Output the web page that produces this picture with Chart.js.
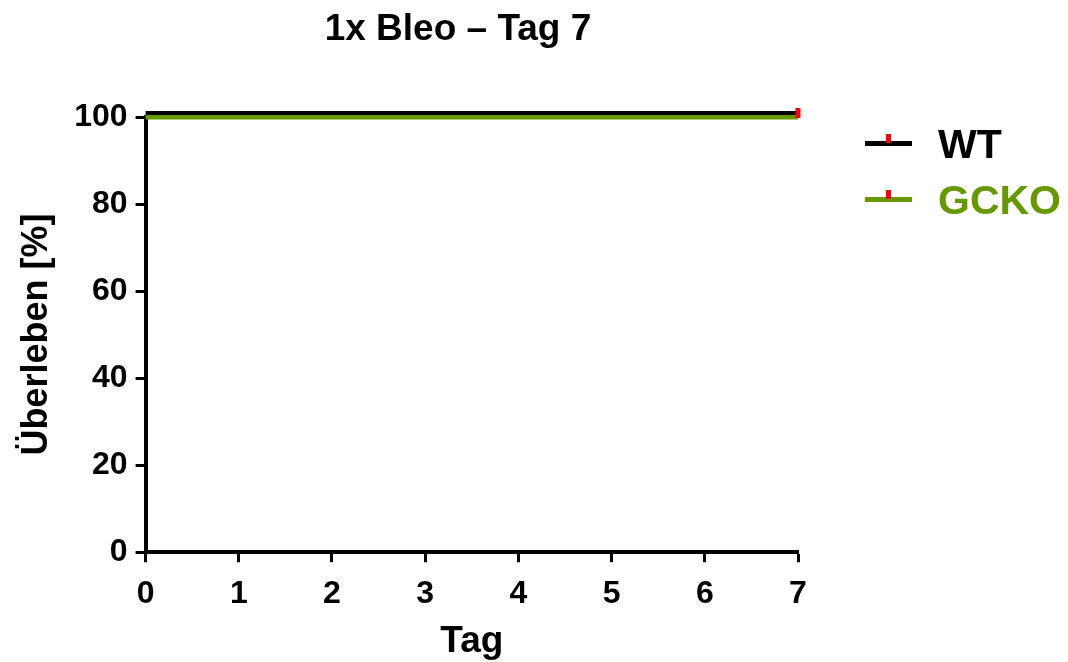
<!DOCTYPE html>
<html>
<head>
<meta charset="utf-8">
<script src="https://cdn.jsdelivr.net/npm/chart.js@4/dist/chart.umd.min.js"></script>
<style>
  html, body { margin: 0; padding: 0; background: #ffffff; }
  #wrap { width: 1068px; height: 662px; }
</style>
</head>
<body>
<div id="wrap"><canvas id="grafica" width="1068" height="662"></canvas></div>
<script>
// Daten (Überleben in %)
const tage = [0, 7];
const wtUeberleben = [100, 100];
const gckoUeberleben = [100, 100];
const serien = ['WT', 'GCKO'];
const xTicks = [0, 1, 2, 3, 4, 5, 6, 7];
const yTicks = [0, 20, 40, 60, 80, 100];
const titel = '1x Bleo \u2013 Tag 7';

const farben = { WT: '#000000', GCKO: '#669900', zensiert: '#ff0000' };
const schrift = 'Liberation Sans, Arial, sans-serif';

function punkte(werte) {
    return tage.map((t, i) => ({ x: t, y: werte[i] }));
}

// letzter Punkt = zensiert (roter Strich)
function radien(werte) {
    return werte.map((v, i) => i === werte.length - 1 ? 5 : 0);
}

// WT-Linie leicht nach oben versetzt, wie im Original
const versatz = {
    id: 'versatz',
    beforeDatasetDraw(chart, args) {
        chart.ctx.save();
        if (args.index === 0) chart.ctx.translate(0, -4);
    },
    afterDatasetDraw(chart) {
        chart.ctx.restore();
    }
};

// Titel + Legende rechts (Linie mit rotem Strich + Text)
const beschriftung = {
    id: 'beschriftung',
    afterDraw(chart) {
        const ctx = chart.ctx;
        ctx.save();
        ctx.fillStyle = '#000000';
        ctx.font = 'bold 37px ' + schrift;
        ctx.textAlign = 'center';
        ctx.textBaseline = 'alphabetic';
        ctx.fillText(titel, 458, 40);

        const eintraege = [
            { name: serien[0], farbe: farben.WT, y: 143.5, basis: 158 },
            { name: serien[1], farbe: farben.GCKO, y: 199.5, basis: 214 }
        ];
        eintraege.forEach(e => {
            ctx.strokeStyle = e.farbe;
            ctx.lineWidth = 5;
            ctx.beginPath();
            ctx.moveTo(865, e.y);
            ctx.lineTo(912, e.y);
            ctx.stroke();
            ctx.strokeStyle = farben.zensiert;
            ctx.lineWidth = 5;
            ctx.beginPath();
            ctx.moveTo(888.5, e.y - 9.5);
            ctx.lineTo(888.5, e.y - 0.5);
            ctx.stroke();
            ctx.fillStyle = e.farbe;
            ctx.font = 'bold 41px ' + schrift;
            ctx.textAlign = 'left';
            ctx.fillText(e.name, 938, e.basis);
        });
        ctx.restore();
    }
};

const ctx = document.getElementById('grafica').getContext('2d');

new Chart(ctx, {
    type: 'line',
    data: {
        datasets: [
            {
                label: serien[0],
                data: punkte(wtUeberleben),
                borderColor: farben.WT,
                borderWidth: 4,
                stepped: true,
                clip: false,
                pointStyle: 'line',
                rotation: 90,
                pointRadius: radien(wtUeberleben),
                pointBorderColor: farben.zensiert,
                pointBorderWidth: 5,
                pointHoverRadius: 0
            },
            {
                label: serien[1],
                data: punkte(gckoUeberleben),
                borderColor: farben.GCKO,
                borderWidth: 5,
                stepped: true,
                clip: false,
                pointRadius: 0,
                pointHoverRadius: 0
            }
        ]
    },
    options: {
        responsive: false,
        animation: false,
        layout: { padding: { top: 117, right: 270, left: 15, bottom: -2 } },
        plugins: {
            legend: { display: false },
            tooltip: { enabled: false },
            title: { display: false }
        },
        scales: {
            x: {
                type: 'linear',
                min: 0,
                max: 7,
                afterBuildTicks: axis => { axis.ticks = xTicks.map(v => ({ value: v })); },
                border: { display: true, color: '#000000', width: 4 },
                grid: { drawOnChartArea: false, drawTicks: true, tickLength: 10, tickWidth: 3, tickColor: '#000000' },
                ticks: { color: '#000000', padding: 13, font: { family: schrift, size: 32, weight: 'bold' }, maxRotation: 0 },
                title: {
                    display: true,
                    text: 'Tag',
                    color: '#000000',
                    font: { family: schrift, size: 37, weight: 'bold' },
                    padding: { top: -7, bottom: 0 }
                }
            },
            y: {
                min: 0,
                max: 100,
                afterBuildTicks: axis => { axis.ticks = yTicks.map(v => ({ value: v })); },
                border: { display: true, color: '#000000', width: 4 },
                grid: { drawOnChartArea: false, drawTicks: true, tickLength: 10, tickWidth: 3, tickColor: '#000000' },
                ticks: { color: '#000000', padding: 8, font: { family: schrift, size: 32, weight: 'bold' } },
                title: {
                    display: true,
                    text: 'Überleben [%]',
                    color: '#000000',
                    font: { family: schrift, size: 36, weight: 'bold' },
                    padding: { top: 0, bottom: 8 }
                }
            }
        }
    },
    plugins: [versatz, beschriftung]
});
</script>
</body>
</html>
